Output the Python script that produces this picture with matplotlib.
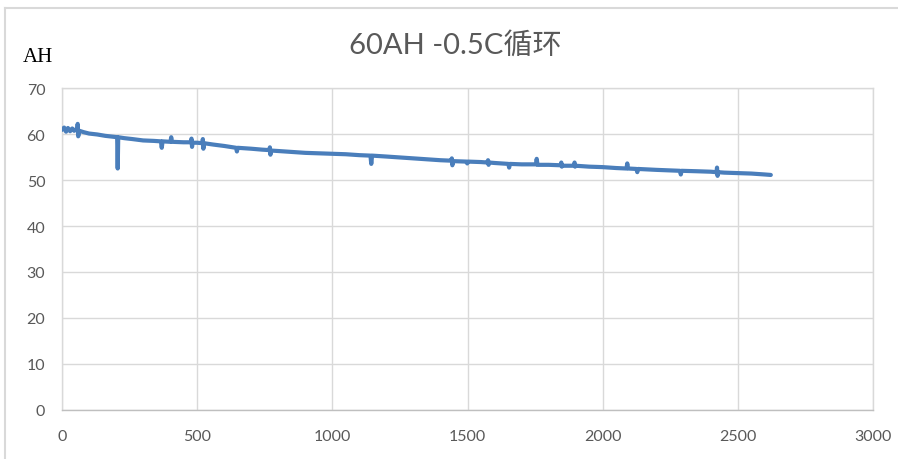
import matplotlib
matplotlib.use("Agg")
import matplotlib.pyplot as plt
from matplotlib.lines import Line2D

# ---- data ----
cycles = [0, 8, 15, 22, 30, 38, 45, 52, 56, 58, 60, 64, 80, 100, 130, 160, 190,
          204, 206, 208, 230, 260, 300, 340, 366, 369, 372, 401, 404, 407, 450,
          477, 479, 481, 483, 500, 519, 521, 523, 525, 560, 600, 644, 647, 650,
          700, 740, 767, 769, 771, 773, 800, 850, 900, 950, 1000, 1050, 1100,
          1141, 1144, 1147, 1200, 1250, 1300, 1350, 1400, 1440, 1442, 1444, 1446,
          1496, 1499, 1502, 1550, 1574, 1576, 1578, 1580, 1600, 1651, 1654, 1657,
          1700, 1753, 1756, 1759, 1800, 1845, 1847, 1849, 1851, 1894, 1896, 1898,
          1900, 1950, 2000, 2050, 2088, 2091, 2094, 2125, 2128, 2131, 2200, 2286,
          2289, 2292, 2350, 2400, 2421, 2423, 2425, 2427, 2450, 2500, 2550, 2600, 2622]
capacity = [60.9, 61.4, 60.5, 61.3, 60.6, 61.2, 60.7, 61.0, 60.8, 62.2, 59.5, 60.7, 60.4, 60.1, 59.9, 59.6, 59.4,
            59.3, 52.5, 59.3, 59.1, 58.9, 58.6, 58.5, 58.4, 57.0, 58.4, 58.3, 59.3, 58.3, 58.2,
            58.2, 59.0, 57.2, 58.1, 58.1, 58.0, 58.9, 56.8, 58.0, 57.7, 57.4, 57.0, 56.2, 57.0,
            56.8, 56.6, 56.5, 57.1, 55.5, 56.4, 56.3, 56.1, 55.9, 55.8, 55.7, 55.6, 55.4,
            55.3, 53.5, 55.3, 55.1, 54.9, 54.7, 54.5, 54.3, 54.2, 54.7, 53.2, 54.1,
            54.0, 53.6, 54.0, 53.9, 53.8, 54.3, 53.3, 53.8, 53.7, 53.5, 52.7, 53.5,
            53.4, 53.4, 54.6, 53.3, 53.3, 53.2, 53.8, 52.9, 53.1, 53.1, 53.8, 52.9,
            53.1, 52.9, 52.8, 52.6, 52.5, 53.6, 52.5, 52.4, 51.7, 52.4, 52.2, 52.0,
            51.2, 52.0, 51.9, 51.8, 51.7, 52.7, 50.9, 51.7, 51.6, 51.5, 51.4, 51.2, 51.1]

x_ticks = [0, 500, 1000, 1500, 2000, 2500, 3000]
y_ticks = [0, 10, 20, 30, 40, 50, 60, 70]
title_text = "60AH -0.5C循环"
y_unit = "AH"

W, H = 898, 460
fig = plt.figure(figsize=(W / 100, H / 100), dpi=100)
fig.patch.set_facecolor("white")

# outer chart border (light gray, extends off the right/bottom edge)
border_c = "#D9D9D9"
fig.add_artist(Line2D([5 / W, 1.0], [1 - 9 / H, 1 - 9 / H], color=border_c, lw=1.5,
                      transform=fig.transFigure))
fig.add_artist(Line2D([5 / W, 5 / W], [0.0, 1 - 9 / H], color=border_c, lw=1.5,
                      transform=fig.transFigure))

ax = fig.add_axes([62 / W, (H - 411) / H, (873 - 62) / W, (411 - 89) / H])
ax.plot(cycles, capacity, color="#4A7EBB", lw=3.0, solid_joinstyle="round",
        solid_capstyle="round", zorder=3)

ax.set_xlim(0, 3000)
ax.set_ylim(0, 70)
ax.set_xticks(x_ticks)
ax.set_yticks(y_ticks)
ax.grid(True, color="#D9D9D9", lw=1.0)
ax.set_axisbelow(True)
for s in ["top", "right", "left"]:
    ax.spines[s].set_color("#D9D9D9")
    ax.spines[s].set_linewidth(1.0)
ax.spines["bottom"].set_color("#BFBFBF")
ax.spines["bottom"].set_linewidth(1.0)

ax.tick_params(axis="both", length=0, labelcolor="#595959")
ax.tick_params(axis="y", pad=12)
ax.tick_params(axis="x", pad=14)
for t in ax.get_xticklabels() + ax.get_yticklabels():
    t.set_fontfamily(["Lato", "DejaVu Sans"])
    t.set_fontsize(11.5)

fig.text(455 / W, 1 - 45 / H, title_text, ha="center", va="center",
         family=["Lato", "Noto Sans CJK SC", "DejaVu Sans"], fontsize=21, color="#595959")
fig.text(23 / W, 1 - 57 / H, y_unit, ha="left", va="center",
         family=["Liberation Serif", "DejaVu Serif"], fontsize=15, color="black")

fig.savefig("out.png", dpi=100, facecolor="white")
